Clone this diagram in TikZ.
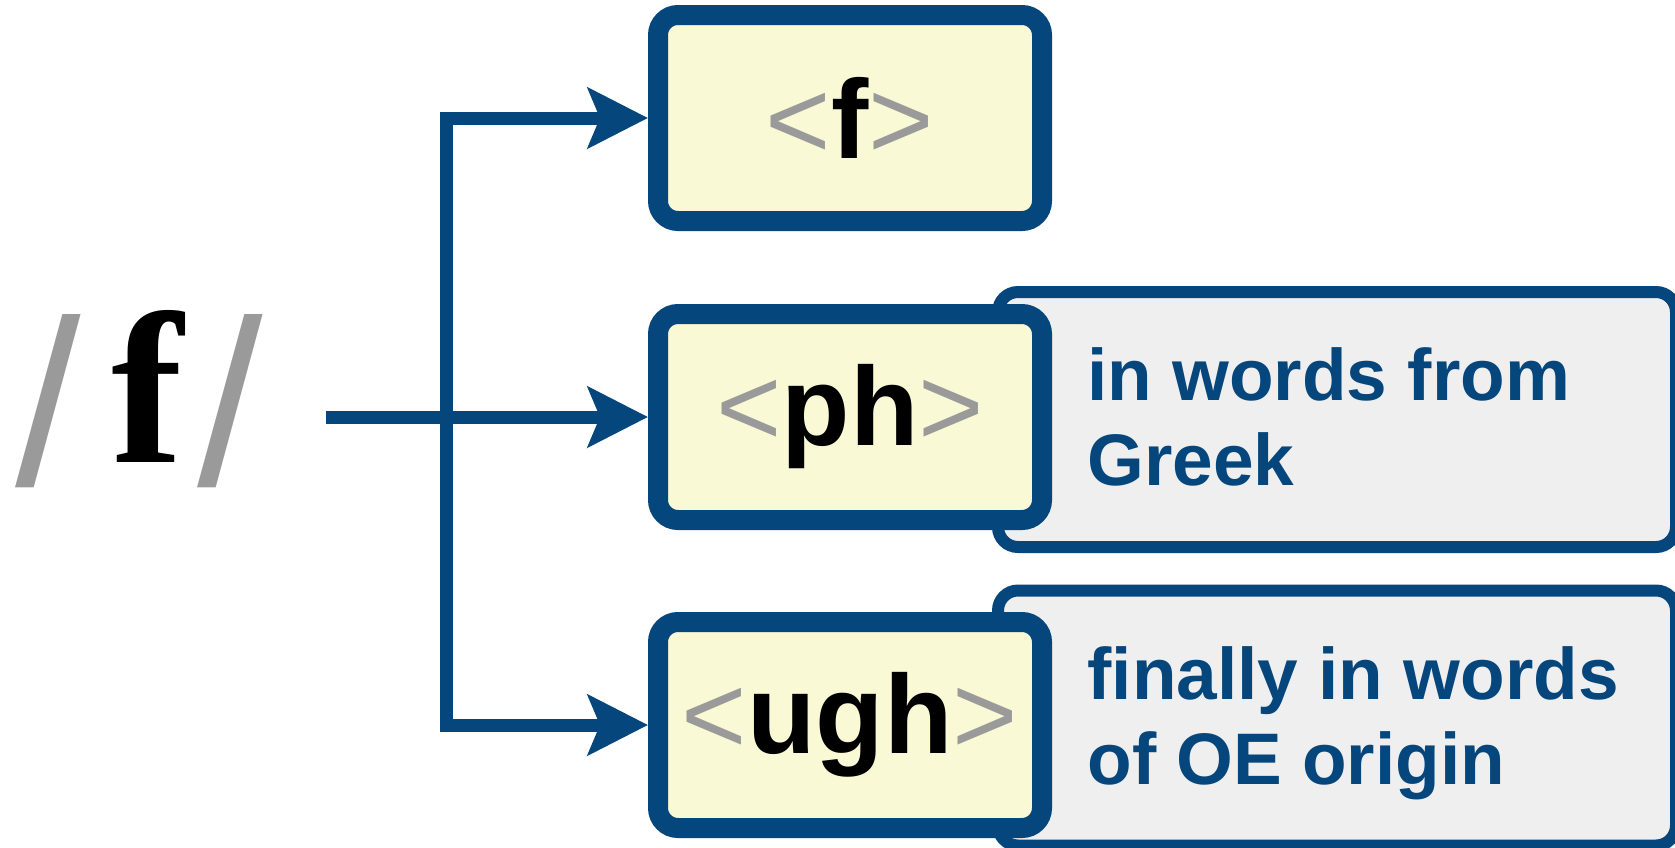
\documentclass[tikz,border=0pt]{standalone}
\usepackage{fontspec}
\setmainfont{Liberation Sans}
\newfontfamily\fserif{Liberation Serif}
\usepackage{tikz}
\usetikzlibrary{arrows.meta}

\definecolor{navy}{HTML}{05467C}
\definecolor{paleyellow}{HTML}{F9F9D5}
\definecolor{notegray}{HTML}{EFEFEF}
\definecolor{slashgray}{HTML}{9A9A9A}

\newcommand{\abr}[1]{{\mdseries\color{slashgray}#1}}

\begin{document}
\begin{tikzpicture}[x=0.5pt, y=-0.5pt,
        >={Stealth[length=30pt, width=30pt, inset=6pt]},
        letter/.style={draw=navy, line width=10pt, fill=paleyellow, rounded corners=10pt,
            minimum width=192pt, minimum height=103pt, inner sep=0pt,
            font=\fontsize{56}{60}\selectfont\bfseries},
        note/.style={draw=navy, line width=6pt, fill=notegray, rounded corners=10pt,
            minimum width=339pt, minimum height=127.5pt},
        notetext/.style={anchor=west, align=left, text=navy, inner sep=0pt,
            font=\fontsize{36.5}{42.5}\selectfont\bfseries},
        slash/.style={anchor=base west, inner sep=0pt, text=slashgray,
            font=\fontsize{118}{120}\selectfont},
        link/.style={draw=navy, line width=6.5pt}]
                    \useasboundingbox (0,0) rectangle (1675,847);
                    \clip (0,0) rectangle (1675,847);

                    % the phoneme
                    \node[slash] (lslash) at (15,485) {/};
                    \node[anchor=base, inner sep=0pt, font=\fserif\bfseries\fontsize{108}{110}\selectfont] (phon) at (147,462) {f};
                    \node[slash] (rslash) at (197,485) {/};

                    % notes sit behind the spellings
                    \node[note] (notegreek) at (1337,419.5) {};
                    \node[note] (noteoe) at (1337,718) {};
                    \node[notetext] (greek) at (1087,417) {in words from\\Greek};
                    \node[notetext] (oe) at (1087,723) {finally in words\\of OE origin};

                    % spellings
                    \node[letter] (sp1) at (850,118) {\abr{<}f\abr{>}};
                    \node[letter] (sp2) at (850,417) {\abr{<}ph\abr{>}};
                    \node[letter] (sp3) at (850,725) {\abr{<}ugh\abr{>}};

                    \coordinate (start) at (326,417);
                    \coordinate (fork) at (446,417);
                    \draw[link, ->] (start) -- (sp2.west);
                    \draw[link, <->] (sp1.west) -| (fork) |- (sp3.west);
                \end{tikzpicture}
\end{document}
